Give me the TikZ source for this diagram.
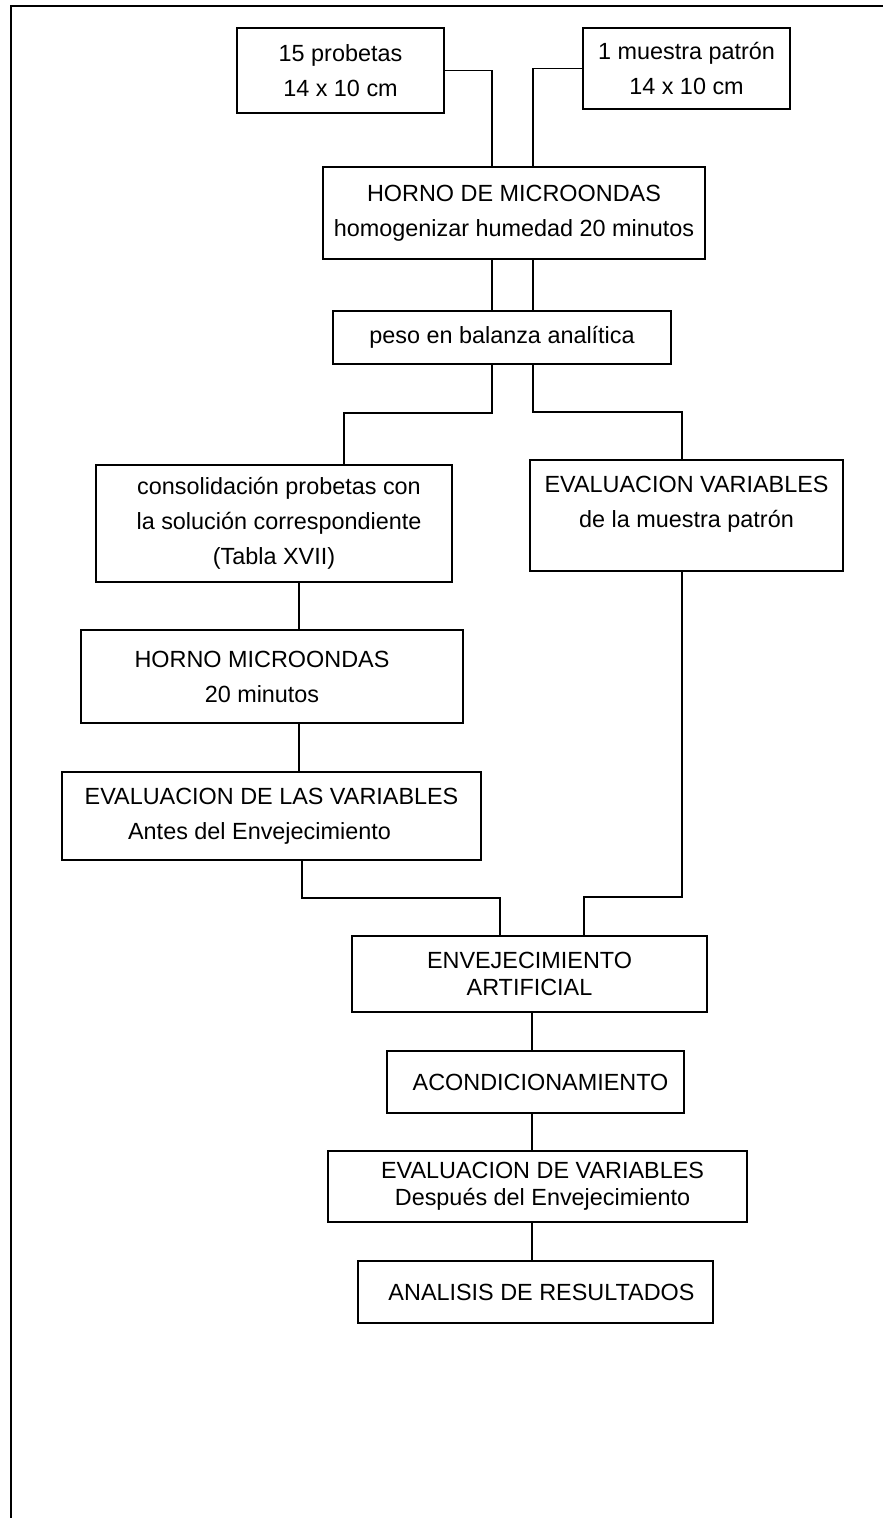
\documentclass[tikz,border=0pt]{standalone}
\usepackage{fontspec}
\setmainfont{Liberation Sans}
\begin{document}
\begin{tikzpicture}[x=0.5pt,y=-0.5pt,
  box/.style={draw, line width=0.8pt, inner sep=0pt, align=center,
    font=\fontsize{11.7}{17.5}\selectfont},
  tight/.style={font=\fontsize{11.7}{13.5}\selectfont},
  conn/.style={line width=0.6pt}]
\useasboundingbox (0,0) rectangle (882,1518);
\draw[line width=1pt] (10.5,1520) -- (10.5,6) -- (884,6);

\node[box, minimum width=207*0.5pt, minimum height=85*0.5pt] (b1) at (340.5,70.5) {15 probetas\\14 x 10 cm};
\node[box, minimum width=207*0.5pt, minimum height=81*0.5pt] (b2) at (686.5,68.5) {1 muestra patrón\\14 x 10 cm};
\node[box, minimum width=382*0.5pt, minimum height=92*0.5pt] (horno) at (514,213) {HORNO DE MICROONDAS\\homogenizar humedad 20 minutos};
\node[box, minimum width=338*0.5pt, minimum height=53*0.5pt] (peso) at (502,337.5) {peso en balanza analítica};
\node[box, minimum width=356*0.5pt, minimum height=117*0.5pt] (cons) at (274,523.5) {\hspace*{5pt}consolidación probetas con\\\hspace*{5pt}la solución correspondiente\\(Tabla XVII)};
\node[box, minimum width=313*0.5pt, minimum height=111*0.5pt] (evm) at (686.5,515.5) {EVALUACION VARIABLES\\de la muestra patrón\\[-4pt]\mbox{}};
\node[box, minimum width=382*0.5pt, minimum height=93*0.5pt] (hm) at (272,676.5) {HORNO MICROONDAS\hspace*{10pt}\\20 minutos\hspace*{10pt}};
\node[box, minimum width=419*0.5pt, minimum height=88*0.5pt] (eva) at (271.5,816) {EVALUACION DE LAS VARIABLES\\Antes del Envejecimiento\hspace*{12pt}};
\node[box, tight, minimum width=355*0.5pt, minimum height=76*0.5pt] (env) at (529.5,974) {ENVEJECIMIENTO\\ARTIFICIAL};
\node[box, minimum width=297*0.5pt, minimum height=62*0.5pt] (acon) at (535.5,1082) {\hspace*{5pt}ACONDICIONAMIENTO};
\node[box, tight, minimum width=419*0.5pt, minimum height=71*0.5pt] (evd) at (537.5,1186.5) {\hspace*{5pt}EVALUACION DE VARIABLES\\\hspace*{5pt}Después del Envejecimiento};
\node[box, minimum width=355*0.5pt, minimum height=62*0.5pt] (ana) at (535.5,1292) {\hspace*{6pt}ANALISIS DE RESULTADOS};

\coordinate (cL) at (492,0);
\coordinate (cR) at (533,0);
\coordinate (k1) at (344,413);
\coordinate (k2) at (682,412);
\coordinate (c3) at (299,0);
\coordinate (k3) at (302,898);
\coordinate (k4) at (500,898);
\coordinate (k5) at (682,897);
\coordinate (k6) at (584,897);
\coordinate (c5) at (532,0);

\draw[conn] (b1.east) -| (cL |- horno.north);
\draw[conn] (b2.west) -| (cR |- horno.north);
\draw[conn] (cL |- horno.south) -- (cL |- peso.north);
\draw[conn] (cR |- horno.south) -- (cR |- peso.north);
\draw[conn] (cL |- peso.south) |- (k1) -- (k1 |- cons.north);
\draw[conn] (cR |- peso.south) |- (k2) -- (k2 |- evm.north);
\draw[conn] (c3 |- cons.south) -- (c3 |- hm.north);
\draw[conn] (c3 |- hm.south) -- (c3 |- eva.north);
\draw[conn] (k3 |- eva.south) -- (k3) -- (k4) -- (k4 |- env.north);
\draw[conn] (k5 |- evm.south) -- (k5) -- (k6) -- (k6 |- env.north);
\draw[conn] (c5 |- env.south) -- (c5 |- acon.north);
\draw[conn] (c5 |- acon.south) -- (c5 |- evd.north);
\draw[conn] (c5 |- evd.south) -- (c5 |- ana.north);
\end{tikzpicture}
\end{document}
